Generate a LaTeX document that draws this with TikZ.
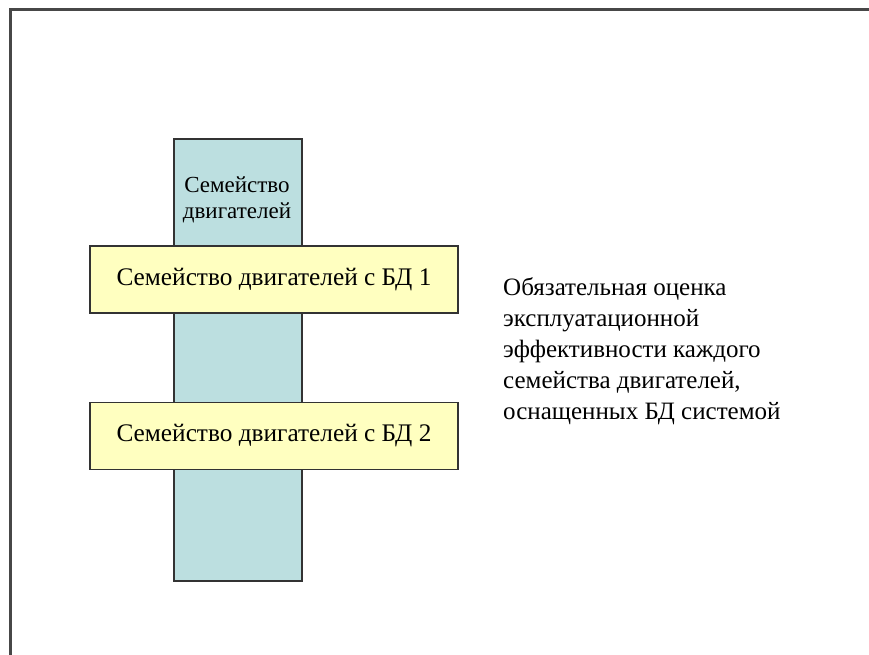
\documentclass[tikz,border=0pt]{standalone}
\usepackage{fontspec}
\setmainfont{Liberation Serif}
\definecolor{colfill}{HTML}{BCDFE0}
\definecolor{boxfill}{HTML}{FFFFC0}
\definecolor{edge}{HTML}{333333}
\begin{document}
\begin{tikzpicture}[x=1pt,y=-1pt,
  column/.style={draw=edge,line width=1.5pt,fill=colfill},
  band/.style={draw=edge,line width=1.5pt,fill=boxfill,minimum width=368pt,minimum height=67pt,inner sep=0pt,font=\fontsize{25.3}{30}\selectfont},
  lbl/.style={inner sep=0pt,align=center,font=\fontsize{23}{26}\selectfont},
  note/.style={inner sep=0pt,align=left,anchor=north west,font=\fontsize{25}{31}\selectfont}]
\useasboundingbox (0,0) rectangle (869,654);
\draw[edge!90,line width=2.5pt] (10.5,660) -- (10.5,9.5) -- (875,9.5);
\node[column,minimum width=128pt,minimum height=442pt,inner sep=0pt,anchor=north west] (col) at (173,138) {};
\node[lbl] (coltext) at (237,199.5) {Семейство\\двигателей};
\node[band] (b1) at (274,279.5) {Семейство двигателей с БД 1};
\node[band] (b2) at (274,436) {Семейство двигателей с БД 2};
\node[note] (txt) at (503,277.5) {Обязательная оценка\\эксплуатационной\\эффективности каждого\\семейства двигателей,\\оснащенных БД системой};
\end{tikzpicture}
\end{document}
